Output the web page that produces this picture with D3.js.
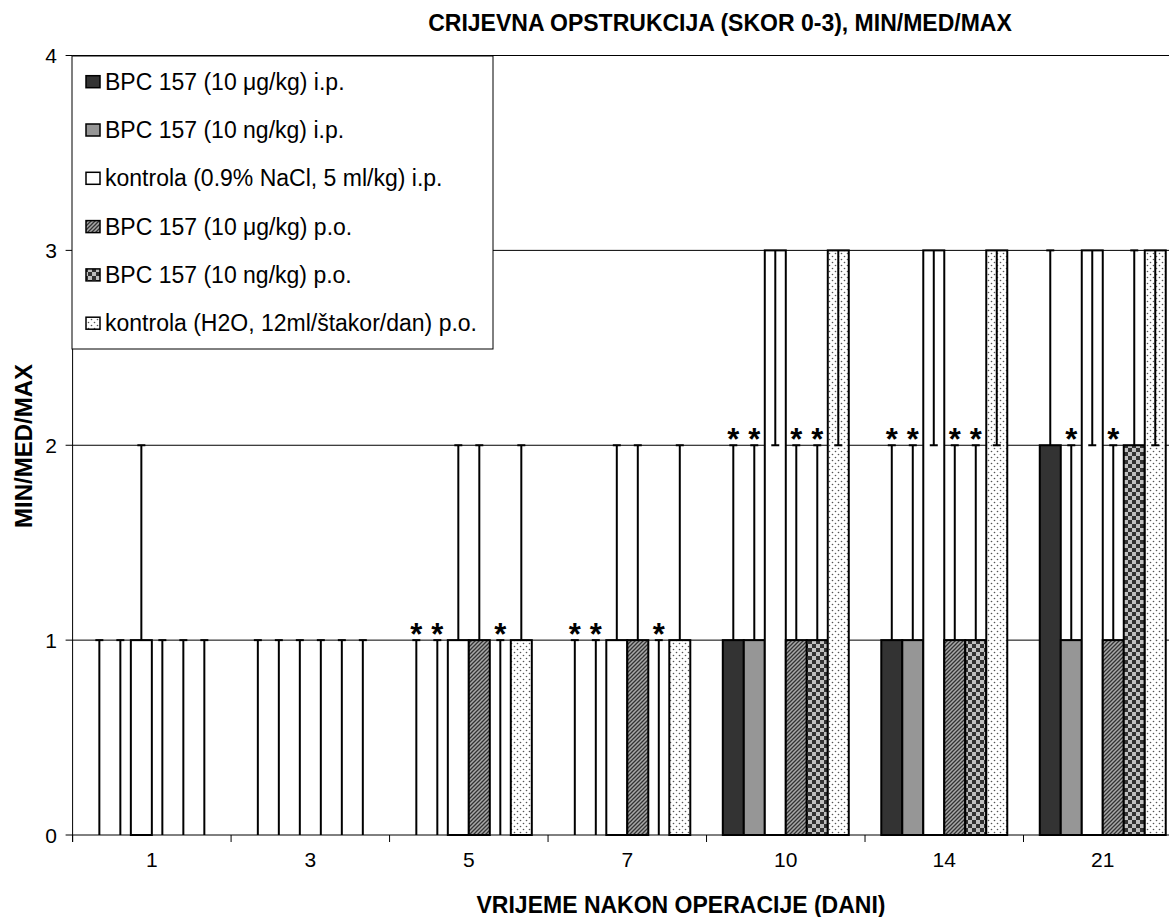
<!DOCTYPE html>
<html>
<head>
<meta charset="utf-8">
<script src="https://cdn.jsdelivr.net/npm/d3@7"></script>
<style>
  html, body { margin: 0; padding: 0; background: #fff; }
  svg { display: block; font-family: "Liberation Sans", Arial, sans-serif; }
  svg text { white-space: pre; }
</style>
</head>
<body>
<div id="chart"></div>
<script>
// ─── Data ───────────────────────────────────────────────────────
const days = ['1', '3', '5', '7', '10', '14', '21'];

const seriesNames = [
    'BPC 157 (10 μg/kg) i.p.',
    'BPC 157 (10 ng/kg) i.p.',
    'kontrola (0.9% NaCl, 5 ml/kg) i.p.',
    'BPC 157 (10 μg/kg) p.o.',
    'BPC 157 (10 ng/kg) p.o.',
    'kontrola (H2O, 12ml/štakor/dan) p.o.'
];

// medians per series, one value per day
const medIpMicro   = [0, 0, 0, 0, 1, 1, 2];
const medIpNano    = [0, 0, 0, 0, 1, 1, 1];
const medIpCtrl    = [1, 0, 1, 1, 3, 3, 3];
const medPoMicro   = [0, 0, 1, 1, 1, 1, 1];
const medPoNano    = [0, 0, 0, 0, 1, 1, 2];
const medPoCtrl    = [0, 0, 1, 1, 3, 3, 3];

// minimums
const minIpMicro   = [0, 0, 0, 0, 1, 1, 2];
const minIpNano    = [0, 0, 0, 0, 1, 1, 1];
const minIpCtrl    = [1, 0, 1, 1, 2, 2, 2];
const minPoMicro   = [0, 0, 1, 1, 1, 1, 1];
const minPoNano    = [0, 0, 0, 0, 1, 1, 2];
const minPoCtrl    = [0, 0, 1, 1, 2, 2, 2];

// maximums
const maxIpMicro   = [1, 1, 1, 1, 2, 2, 3];
const maxIpNano    = [1, 1, 1, 1, 2, 2, 2];
const maxIpCtrl    = [2, 1, 2, 2, 3, 3, 3];
const maxPoMicro   = [1, 1, 2, 2, 2, 2, 2];
const maxPoNano    = [1, 1, 1, 1, 2, 2, 3];
const maxPoCtrl    = [1, 1, 2, 2, 3, 3, 3];

// significance marks: [day, series index]
const starMarks = [
    ['5', 0], ['5', 1], ['5', 4],
    ['7', 0], ['7', 1], ['7', 4],
    ['10', 0], ['10', 1], ['10', 3], ['10', 4],
    ['14', 0], ['14', 1], ['14', 3], ['14', 4],
    ['21', 1], ['21', 3]
];

const yTicks = [0, 1, 2, 3, 4];

const meds = [medIpMicro, medIpNano, medIpCtrl, medPoMicro, medPoNano, medPoCtrl];
const mins = [minIpMicro, minIpNano, minIpCtrl, minPoMicro, minPoNano, minPoCtrl];
const maxs = [maxIpMicro, maxIpNano, maxIpCtrl, maxPoMicro, maxPoNano, maxPoCtrl];

// ─── Layout ─────────────────────────────────────────────────────
const W = 1169, H = 917;
const plot = { left: 72.6, right: 1182, top: 55.5, bottom: 835 };

const svg = d3.select('#chart').append('svg')
    .attr('width', W).attr('height', H);

const defs = svg.append('defs');

// diagonal hatch
const hatch = defs.append('pattern').attr('id', 'hatch')
    .attr('patternUnits', 'userSpaceOnUse').attr('width', 4).attr('height', 4);
hatch.append('rect').attr('width', 4).attr('height', 4).attr('fill', '#a8a8a8');
hatch.append('path').attr('d', 'M-1,1 l2,-2 M0,4 l4,-4 M3,5 l2,-2')
    .attr('stroke', '#333').attr('stroke-width', 1.3);

// checkerboard
const checker = defs.append('pattern').attr('id', 'checker')
    .attr('patternUnits', 'userSpaceOnUse').attr('width', 8).attr('height', 8);
checker.append('rect').attr('width', 8).attr('height', 8).attr('fill', '#c0c0c0');
checker.append('rect').attr('width', 4).attr('height', 4).attr('fill', '#333');
checker.append('rect').attr('x', 4).attr('y', 4).attr('width', 4).attr('height', 4).attr('fill', '#333');

// sparse dots
const dots = defs.append('pattern').attr('id', 'dots')
    .attr('patternUnits', 'userSpaceOnUse').attr('width', 6).attr('height', 6);
dots.append('rect').attr('width', 6).attr('height', 6).attr('fill', '#fff');
dots.append('circle').attr('cx', 1.5).attr('cy', 1.5).attr('r', 0.8).attr('fill', '#555');
dots.append('circle').attr('cx', 4.5).attr('cy', 4.5).attr('r', 0.8).attr('fill', '#555');

const fills = ['#333333', '#969696', '#ffffff', 'url(#hatch)', 'url(#checker)', 'url(#dots)'];

// ─── Scales ─────────────────────────────────────────────────────
const x0 = d3.scaleBand().domain(days).range([plot.left, plot.right]).padding(0);
const x1 = d3.scaleBand().domain(d3.range(seriesNames.length))
    .range([0, x0.bandwidth()]).paddingInner(0).paddingOuter(0.774);
const y = d3.scaleLinear().domain([0, 4]).range([plot.bottom, plot.top]);

const barCx = (day, s) => x0(day) + x1(s) + x1.bandwidth() / 2;

// ─── Gridlines ──────────────────────────────────────────────────
svg.append('g').selectAll('line')
    .data(yTicks.filter(t => t > 0))
    .enter().append('line')
    .attr('x1', plot.left).attr('x2', plot.right)
    .attr('y1', d => y(d)).attr('y2', d => y(d))
    .attr('stroke', '#000').attr('stroke-width', 1);

// ─── Bars + min/max whiskers ────────────────────────────────────
const cells = [];
meds.forEach((arr, s) => arr.forEach((v, i) => {
    cells.push({ day: days[i], s, med: v, min: mins[s][i], max: maxs[s][i] });
}));

svg.append('g').selectAll('rect')
    .data(cells.filter(d => d.med > 0))
    .enter().append('rect')
    .attr('x', d => x0(d.day) + x1(d.s))
    .attr('y', d => y(d.med))
    .attr('width', x1.bandwidth())
    .attr('height', d => y(0) - y(d.med))
    .attr('fill', d => fills[d.s])
    .attr('stroke', '#000').attr('stroke-width', 2);

const capW = 8;
const err = svg.append('g').attr('stroke', '#000').attr('stroke-width', 2);
cells.forEach(d => {
    const cx = barCx(d.day, d.s);
    if (d.max > d.med) {
        err.append('line').attr('x1', cx).attr('x2', cx)
            .attr('y1', y(d.med)).attr('y2', y(d.max));
        err.append('line').attr('x1', cx - capW / 2).attr('x2', cx + capW / 2)
            .attr('y1', y(d.max)).attr('y2', y(d.max));
    }
    if (d.min < d.med) {
        err.append('line').attr('x1', cx).attr('x2', cx)
            .attr('y1', y(d.med)).attr('y2', y(d.min));
        err.append('line').attr('x1', cx - capW / 2).attr('x2', cx + capW / 2)
            .attr('y1', y(d.min)).attr('y2', y(d.min));
    }
});

// asterisks above the max cap
svg.append('g').selectAll('text')
    .data(starMarks)
    .enter().append('text')
    .attr('x', d => barCx(d[0], d[1]))
    .attr('y', d => y(maxs[d[1]][days.indexOf(d[0])]) + 5)
    .attr('text-anchor', 'middle')
    .attr('font-size', 31).attr('font-weight', 'bold')
    .text('*');

// ─── Axes ───────────────────────────────────────────────────────
const axisG = svg.append('g').attr('stroke', '#000').attr('stroke-width', 1);
axisG.append('line')
    .attr('x1', plot.left).attr('x2', plot.left)
    .attr('y1', plot.top).attr('y2', plot.bottom + 7);
axisG.append('line')
    .attr('x1', plot.left).attr('x2', plot.right)
    .attr('y1', plot.bottom).attr('y2', plot.bottom);

// y ticks
axisG.selectAll('line.ytick')
    .data(yTicks).enter().append('line').attr('class', 'ytick')
    .attr('x1', plot.left - 7).attr('x2', plot.left)
    .attr('y1', d => y(d)).attr('y2', d => y(d));

svg.append('g').selectAll('text')
    .data(yTicks).enter().append('text')
    .attr('x', 57).attr('y', d => y(d)).attr('dy', '0.36em')
    .attr('text-anchor', 'end').attr('font-size', 21)
    .text(d => d);

// x ticks at group boundaries
axisG.selectAll('line.xtick')
    .data(days.map(d => x0(d)).concat([x0(days[days.length - 1]) + x0.bandwidth()]))
    .enter().append('line').attr('class', 'xtick')
    .attr('x1', d => d).attr('x2', d => d)
    .attr('y1', plot.bottom).attr('y2', plot.bottom + 7);

svg.append('g').selectAll('text')
    .data(days).enter().append('text')
    .attr('x', d => x0(d) + x0.bandwidth() / 2)
    .attr('y', 867)
    .attr('text-anchor', 'middle').attr('font-size', 21)
    .text(d => d);

// ─── Titles ─────────────────────────────────────────────────────
svg.append('text')
    .attr('x', 720).attr('y', 31)
    .attr('text-anchor', 'middle').attr('font-size', 23).attr('font-weight', 'bold')
    .text('CRIJEVNA OPSTRUKCIJA (SKOR 0-3), MIN/MED/MAX');

svg.append('text')
    .attr('x', 681).attr('y', 913)
    .attr('text-anchor', 'middle').attr('font-size', 23).attr('font-weight', 'bold')
    .text('VRIJEME NAKON OPERACIJE (DANI)');

svg.append('text')
    .attr('transform', 'translate(32,446) rotate(-90)')
    .attr('text-anchor', 'middle').attr('font-size', 24).attr('font-weight', 'bold')
    .text('MIN/MED/MAX');

// ─── Legend ─────────────────────────────────────────────────────
const legend = svg.append('g');
legend.append('rect')
    .attr('x', 72).attr('y', 56).attr('width', 421).attr('height', 293)
    .attr('fill', '#fff').attr('stroke', '#000').attr('stroke-width', 1);

const rowY = i => 81.7 + i * 48.3;
const items = legend.selectAll('g.item')
    .data(seriesNames).enter().append('g').attr('class', 'item');
items.append('rect')
    .attr('x', 86).attr('y', (d, i) => rowY(i) - 6)
    .attr('width', 14).attr('height', 12)
    .attr('fill', (d, i) => fills[i])
    .attr('stroke', '#000').attr('stroke-width', 1.5);
items.append('text')
    .attr('x', 105).attr('y', (d, i) => rowY(i) + 8)
    .attr('font-size', 23)
    .text(d => d);
</script>
</body>
</html>
